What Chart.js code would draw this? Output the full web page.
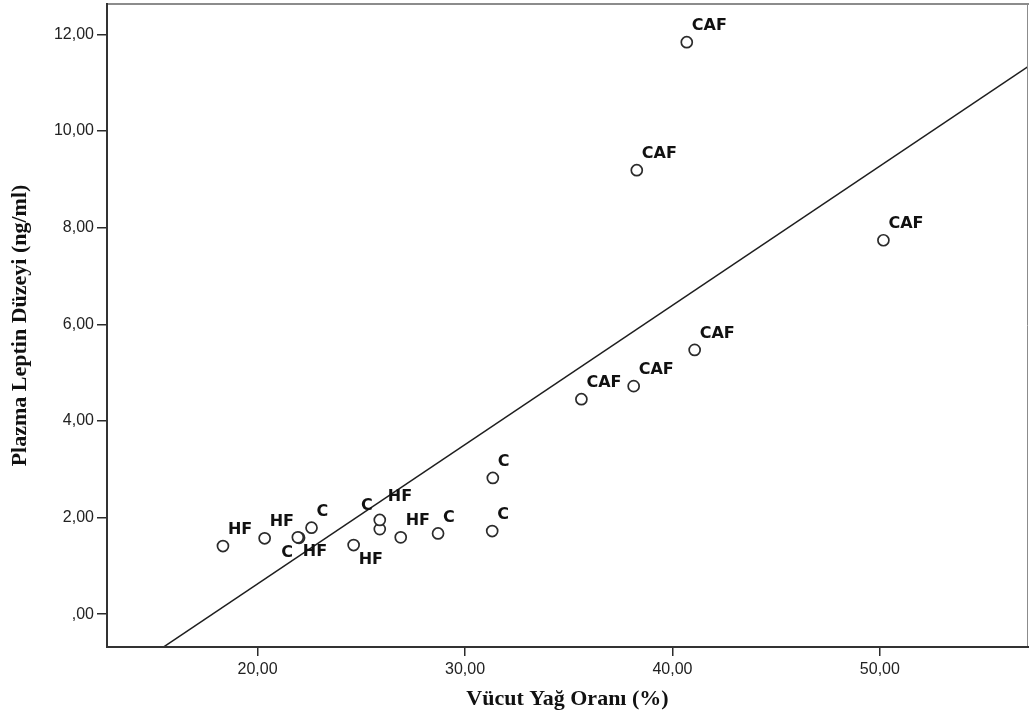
<!DOCTYPE html>
<html lang="tr">
<head>
<meta charset="utf-8">
<title>Vücut Yağ Oranı ve Plazma Leptin Düzeyi</title>
<script src="https://cdn.jsdelivr.net/npm/chart.js@4.4.1/dist/chart.umd.min.js"></script>
<style>
  html, body { margin: 0; padding: 0; background: #fff; }
  #wrap { width: 1029px; height: 725px; }
</style>
</head>
<body>
<div id="wrap"><canvas id="leptinChart" width="1029" height="725"></canvas></div>
<script>
// =====================================================
// VERİLER
// =====================================================
const groupNames = ["CAF", "HF", "C"];

const cafFat    = [40.69, 38.28, 50.17, 41.07, 38.13, 35.61];
const cafLeptin = [11.84, 9.19, 7.74, 5.47, 4.72, 4.45];

const hfFat     = [18.33, 20.34, 21.94, 25.89, 24.63, 26.90];
const hfLeptin  = [1.41, 1.57, 1.59, 1.95, 1.43, 1.59];

const cFat      = [22.00, 22.60, 25.89, 28.70, 31.31, 31.34];
const cLeptin   = [1.58, 1.79, 1.76, 1.67, 1.72, 2.82];

const xTicks = [20, 30, 40, 50];
const yTicks = [0, 2, 4, 6, 8, 10, 12];

// etiketlerin noktaya göre yeri (çakışmaları önlemek için)
const cafPlace = ["ne", "ne", "ne", "ne", "ne", "ne"];
const hfPlace  = ["ne", "ne", "se", "ne+", "se", "ne"];
const cPlace   = ["sw", "ne", "nw+", "ne", "ne", "ne"];

// =====================================================
// YARDIMCILAR
// =====================================================
const X_MIN = 12.74, X_MAX = 57.14;
const Y_MIN = -0.68, Y_MAX = 12.63;

const INK = "#2b2b2b";

function toPoints(xs, ys) {
  return xs.map((x, i) => ({ x: x, y: ys[i] }));
}

function formatTr(v) {
  // SPSS biçimi: 12,00 ... ,00
  if (v === 0) return ",00";
  return v.toFixed(2).replace(".", ",");
}

// en küçük kareler doğrusu
function linearFit(xs, ys) {
  const n = xs.length;
  const mx = xs.reduce((a, b) => a + b, 0) / n;
  const my = ys.reduce((a, b) => a + b, 0) / n;
  let sxy = 0, sxx = 0;
  for (let i = 0; i < n; i++) {
    sxy += (xs[i] - mx) * (ys[i] - my);
    sxx += (xs[i] - mx) * (xs[i] - mx);
  }
  const slope = sxy / sxx;
  return { slope: slope, intercept: my - slope * mx };
}

const allFat = cafFat.concat(hfFat, cFat);
const allLeptin = cafLeptin.concat(hfLeptin, cLeptin);
const fit = linearFit(allFat, allLeptin);
const fitPoints = [X_MIN, X_MAX].map((x) => ({ x: x, y: fit.intercept + fit.slope * x }));

// =====================================================
// EKLENTİLER
// =====================================================
const LABEL_OFFSETS = {
  "ne":  { dx: 5,  dy: -16, align: "left" },
  "ne+": { dx: 8,  dy: -23, align: "left" },
  "se":  { dx: 5,  dy: 15,  align: "left" },
  "sw":  { dx: -6, dy: 15,  align: "right" },
  "nw+": { dx: -7, dy: -23, align: "right" }
};

const pointLabels = {
  id: "pointLabels",
  afterDatasetsDraw(chart) {
    const ctx = chart.ctx;
    ctx.save();
    ctx.font = "bold 16px 'DejaVu Sans', Verdana, sans-serif";
    ctx.fillStyle = "#111";
    ctx.textBaseline = "middle";
    chart.data.datasets.forEach((ds, i) => {
      if (!ds.placement) return;
      const meta = chart.getDatasetMeta(i);
      meta.data.forEach((pt, j) => {
        const off = LABEL_OFFSETS[ds.placement[j]];
        ctx.textAlign = off.align;
        ctx.fillText(ds.label, pt.x + off.dx, pt.y + off.dy);
      });
    });
    ctx.restore();
  }
};

const plotFrame = {
  id: "plotFrame",
  afterDraw(chart) {
    const { left, top, right, bottom } = chart.chartArea;
    const ctx = chart.ctx;
    ctx.save();
    ctx.lineCap = "square";
    // üst ve sağ kenar
    ctx.strokeStyle = "#8c8c8c";
    ctx.lineWidth = 2;
    ctx.beginPath();
    ctx.moveTo(left, top);
    ctx.lineTo(right, top);
    ctx.stroke();
    ctx.lineWidth = 1;
    ctx.beginPath();
    ctx.moveTo(right - 0.5, top);
    ctx.lineTo(right - 0.5, bottom);
    ctx.stroke();
    // sol ve alt kenar
    ctx.strokeStyle = "#333";
    ctx.lineWidth = 2;
    ctx.beginPath();
    ctx.moveTo(left, top);
    ctx.lineTo(left, bottom);
    ctx.lineTo(right, bottom);
    ctx.stroke();
    ctx.restore();
  }
};

// =====================================================
// GRAFİK
// =====================================================
const pointStyle = {
  type: "scatter",
  pointStyle: "circle",
  pointRadius: 5.5,
  pointHoverRadius: 5.5,
  pointBorderWidth: 1.7,
  borderColor: INK,
  backgroundColor: "#fff"
};

const groupData = [
  [cafFat, cafLeptin, cafPlace],
  [hfFat, hfLeptin, hfPlace],
  [cFat, cLeptin, cPlace]
];

const datasets = groupData.map((g, i) => Object.assign({}, pointStyle, {
  label: groupNames[i],
  data: toPoints(g[0], g[1]),
  placement: g[2]
}));

datasets.unshift({
  type: "line",
  label: "fit",
  data: fitPoints,
  borderColor: "#1e1e1e",
  borderWidth: 1.5,
  pointRadius: 0,
  fill: false,
  order: 10
});

new Chart(document.getElementById("leptinChart"), {
  type: "scatter",
  data: { datasets: datasets },
  options: {
    responsive: false,
    animation: false,
    layout: { autoPadding: false, padding: { left: 0, top: 4, right: 1, bottom: 0 } },
    plugins: {
      legend: { display: false },
      tooltip: { enabled: false }
    },
    scales: {
      x: {
        type: "linear",
        min: X_MIN,
        max: X_MAX,
        afterBuildTicks: (s) => { s.ticks = xTicks.map((v) => ({ value: v })); },
        afterFit: (s) => { s.height = 78; s.paddingLeft = 0; s.paddingRight = 0; },
        border: { display: false },
        grid: { drawOnChartArea: false, drawTicks: true, tickLength: 9, color: INK, lineWidth: 1.5 },
        ticks: {
          padding: 4,
          color: "#222",
          font: { family: "'Liberation Sans', Arial, sans-serif", size: 16 },
          callback: (v) => formatTr(v)
        },
        title: {
          display: true,
          text: "Vücut Yağ Oranı (%)",
          color: "#111",
          font: { family: "'Liberation Serif', 'Times New Roman', serif", size: 22, weight: "bold" },
          padding: { top: 0, bottom: 12 }
        }
      },
      y: {
        type: "linear",
        min: Y_MIN,
        max: Y_MAX,
        afterBuildTicks: (s) => { s.ticks = yTicks.map((v) => ({ value: v })); },
        afterFit: (s) => { s.width = 107; s.paddingTop = 0; s.paddingBottom = 0; },
        border: { display: false },
        grid: { drawOnChartArea: false, drawTicks: true, tickLength: 10, color: INK, lineWidth: 1.5 },
        ticks: {
          padding: 3,
          color: "#222",
          font: { family: "'Liberation Sans', Arial, sans-serif", size: 16 },
          callback: (v) => formatTr(v)
        },
        title: {
          display: true,
          text: "Plazma Leptin Düzeyi (ng/ml)",
          color: "#111",
          font: { family: "'Liberation Serif', 'Times New Roman', serif", size: 22, weight: "bold" },
          padding: { top: 7, bottom: 0 }
        }
      }
    }
  },
  plugins: [pointLabels, plotFrame]
});
</script>
</body>
</html>
